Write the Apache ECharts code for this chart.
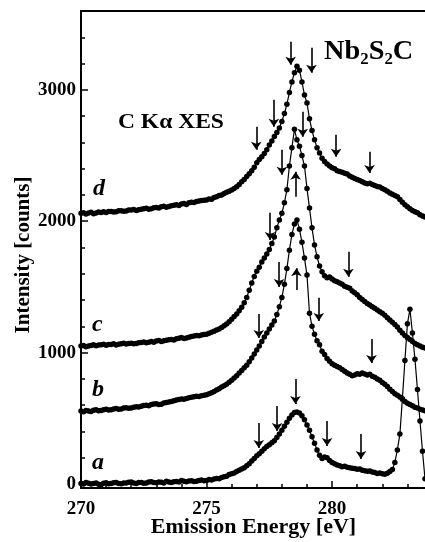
<!DOCTYPE html>
<html><head><meta charset="utf-8">
<script src="https://cdn.jsdelivr.net/npm/echarts@6/dist/echarts.min.js"></script>
<style>html,body{margin:0;padding:0;background:#fff}#c{width:425px;height:542px}</style>
</head><body><div id="c"></div>
<script>
// Emission energy grid (eV)
const energy = [
 270.0,270.1,270.2,270.3,270.4,270.5,270.6,270.7,270.8,270.9,
 271.0,271.1,271.2,271.3,271.4,271.5,271.6,271.7,271.8,271.9,
 272.0,272.1,272.2,272.3,272.4,272.5,272.6,272.7,272.8,272.9,
 273.0,273.1,273.2,273.3,273.4,273.5,273.6,273.7,273.8,273.9,
 274.0,274.1,274.2,274.3,274.4,274.5,274.6,274.7,274.8,274.9,
 275.0,275.1,275.2,275.3,275.4,275.5,275.6,275.7,275.8,275.9,
 276.0,276.1,276.2,276.3,276.4,276.5,276.6,276.7,276.8,276.9,
 277.0,277.1,277.2,277.3,277.4,277.5,277.6,277.7,277.8,277.9,
 278.0,278.1,278.2,278.3,278.4,278.5,278.6,278.7,278.8,278.9,
 279.0,279.1,279.2,279.3,279.4,279.5,279.6,279.7,279.8,279.9,
 280.0,280.1,280.2,280.3,280.4,280.5,280.6,280.7,280.8,280.9,
 281.0,281.1,281.2,281.3,281.4,281.5,281.6,281.7,281.8,281.9,
 282.0,282.1,282.2,282.3,282.4,282.5,282.6,282.7,282.8,282.9,
 283.0,283.1,283.2,283.3,283.4,283.5,283.6,283.7
];
const curveA = [
 5,0,12,6,0,4,8,-2,-5,6,
 10,2,4,10,12,5,2,9,8,14,
 15,8,5,12,12,6,8,15,18,12,
 10,16,14,8,22,15,12,18,20,16,
 28,22,18,24,25,20,22,28,30,26,
 28,35,30,38,42,40,50,55,60,72,
 78,85,95,105,115,125,140,155,175,195,
 215,230,250,268,285,300,315,330,355,380,
 410,440,470,500,525,545,548,540,520,490,
 450,410,360,310,260,220,195,205,200,180,
 165,155,145,140,132,135,128,125,120,118,
 112,115,105,102,98,100,92,88,80,85,
 78,75,82,95,110,165,260,380,650,940,
 1220,1330,1150,950,720,480,250,40
];
const curveB = [
 556,550,560,556,552,562,565,558,560,566,
 570,564,566,572,575,570,572,578,580,576,
 578,584,588,586,592,598,600,596,606,610,
 612,606,608,616,620,624,628,634,640,644,
 648,646,652,656,660,664,668,666,672,676,
 680,688,695,705,715,725,738,748,760,775,
 790,808,825,845,865,885,905,930,960,990,
 1020,1050,1085,1120,1150,1180,1210,1240,1290,1350,
 1420,1520,1640,1780,1900,1980,2010,1940,1840,1720,
 1590,1300,1200,1140,1090,1060,1010,985,955,935,
 915,905,895,885,872,858,845,835,825,830,
 840,835,845,838,830,835,820,812,800,790,
 772,760,742,722,705,688,675,662,645,628,
 615,605,595,585,578,570,564,558
];
const curveC = [
 1050,1054,1045,1050,1055,1060,1052,1058,1060,1064,
 1056,1062,1062,1068,1058,1064,1068,1072,1065,1070,
 1072,1068,1070,1076,1078,1082,1075,1080,1084,1080,
 1088,1092,1085,1090,1095,1098,1100,1096,1105,1110,
 1115,1108,1112,1118,1122,1126,1130,1128,1135,1138,
 1140,1148,1155,1162,1172,1180,1192,1205,1218,1235,
 1255,1275,1295,1318,1345,1380,1420,1475,1530,1580,
 1620,1650,1690,1720,1750,1785,1830,1880,1950,2010,
 2060,2140,2240,2420,2560,2700,2620,2570,2500,2420,
 2250,2100,1950,1820,1730,1660,1615,1585,1570,1575,
 1560,1548,1540,1530,1520,1505,1498,1490,1470,1455,
 1440,1420,1405,1390,1375,1362,1350,1338,1325,1312,
 1300,1285,1265,1248,1232,1215,1195,1170,1150,1130,
 1115,1100,1085,1070,1060,1050,1042,1036
];
const curveD = [
 2060,2064,2055,2062,2068,2058,2062,2070,2066,2072,
 2066,2074,2075,2070,2072,2080,2080,2076,2078,2086,
 2085,2090,2082,2088,2092,2096,2098,2092,2095,2102,
 2105,2100,2110,2114,2106,2112,2118,2122,2125,2120,
 2132,2136,2128,2140,2145,2142,2150,2155,2158,2160,
 2162,2170,2168,2180,2186,2195,2200,2212,2220,2228,
 2238,2250,2262,2280,2300,2318,2340,2362,2385,2410,
 2445,2470,2490,2515,2545,2580,2610,2645,2675,2710,
 2760,2820,2890,2980,3060,3130,3180,3150,3060,2960,
 2900,2780,2690,2620,2560,2520,2480,2455,2435,2420,
 2408,2400,2385,2378,2372,2365,2360,2345,2335,2325,
 2318,2310,2300,2292,2285,2290,2280,2272,2265,2260,
 2250,2240,2228,2215,2205,2195,2186,2165,2145,2125,
 2110,2095,2082,2072,2064,2050,2040,2033
];
// arrows: [energy, start count, tip count]
const arrows = [
 [278.35,3366,3191],[279.18,3320,3130],[277.68,2925,2719],[276.98,2719,2544],[280.16,2658,2490],[281.49,2528,2368],
 [277.53,2064,1858],[278.0,2544,2353],[278.83,2833,2643],[280.65,1767,1577],
 [278.55,2186,2376],[278.58,1477,1643],[277.89,1690,1500],[277.08,1295,1112],[279.47,1417,1241],[281.57,1104,921],
 [277.08,465,274],[277.81,594,404],[278.54,800,609],[279.8,480,289],[281.15,381,190]
];
const xMajorTicks = [270, 275, 280];
const xMinorTicks = [271,272,273,274,276,277,278,279,281,282,283];
const yMajorTicks = [0, 1000, 2000, 3000];
const yMinorTicks = [200,400,600,800,1200,1400,1600,1800,2200,2400,2600,2800,3200,3400];
const curveNames = ['a','b','c','d'];
const curves = [curveA, curveB, curveC, curveD];

const FONT = "'Liberation Serif','Times New Roman',serif";
const chart = echarts.init(document.getElementById('c'), null, {renderer:'canvas'});

const XMIN = 270, XMAX = 283.7, YMIN = -30, YMAX = 3600;
const tickLine = {color:'#000', width:1.5};
const series = curves.map((cv, k) => ({
  type:'line', name: curveNames[k], xAxisIndex:0, yAxisIndex:0,
  data: energy.map((e,i)=>[e, cv[i]]),
  symbol:'circle', symbolSize:5.5, showSymbol:true,
  lineStyle:{color:'#000', width:1.2}, itemStyle:{color:'#000'},
  silent:true, animation:false, z:3
}));
series.push({
  type:'line', xAxisIndex:0, yAxisIndex:0, data:[], silent:true, animation:false,
  markLine:{
    silent:true, animation:false, symbol:['none','arrow'], symbolSize:8,
    label:{show:false}, emphasis:{disabled:true},
    lineStyle:{color:'#000', width:1.6, type:'solid'},
    data: arrows.map(a => [{coord:[a[0], a[1]]}, {coord:[a[0], a[2]]}])
  }
});

const labelPos = [[92,463],[92,390],[92,325],[93,189]];
const graphics = curveNames.map((n,k)=>({
  type:'text', x:labelPos[k][0], y:labelPos[k][1], silent:true,
  style:{text:n, font:"italic bold 24px "+FONT, fill:'#000', textVerticalAlign:'middle'}
}));
graphics.push({type:'text', x:118, y:123, scaleX:1.12, silent:true,
  style:{text:'C K\u03b1 XES', font:"bold 21px "+FONT, fill:'#000', textVerticalAlign:'middle'}});
graphics.push({type:'text', x:324, y:52, scaleX:1.05, silent:true,
  style:{text:'{n|Nb}{s|2}{n|S}{s|2}{n|C}', fill:'#000', textVerticalAlign:'middle',
    rich:{n:{font:"bold 27px "+FONT, fill:'#000'}, s:{font:"bold 16px "+FONT, fill:'#000', padding:[16,0,0,0]}}}});
graphics.push({type:'text', x:24, y:255, rotation:Math.PI/2, silent:true,
  style:{text:'Intensity [counts]', font:"bold 21px "+FONT, fill:'#000', textAlign:'center', textVerticalAlign:'middle'}});
graphics.push({type:'text', x:253.5, y:527.5, silent:true,
  style:{text:'Emission Energy [eV]', font:"bold 22px "+FONT, fill:'#000', textAlign:'center', textVerticalAlign:'middle'}});

chart.setOption({
  animation:false,
  backgroundColor:'#fff',
  grid:{left:81, right:0, top:11, bottom:54, containLabel:false},
  xAxis:[
    {type:'value', min:XMIN, max:XMAX, position:'bottom',
     axisLine:{show:true, onZero:false, lineStyle:{color:'#000', width:2}},
     axisTick:{show:true, inside:true, length:7, customValues:xMajorTicks, lineStyle:tickLine},
     axisLabel:{show:true, customValues:xMajorTicks, margin:12, color:'#000', fontSize:19, fontWeight:'bold', fontFamily:FONT,
       formatter:v=>String(v)},
     splitLine:{show:false}},
    {type:'value', min:XMIN, max:XMAX, position:'bottom',
     axisLine:{show:false, onZero:false},
     axisTick:{show:true, inside:true, length:4, customValues:xMinorTicks, lineStyle:tickLine},
     axisLabel:{show:false}, splitLine:{show:false}},
    {type:'value', min:XMIN, max:XMAX, position:'top',
     axisLine:{show:true, onZero:false, lineStyle:{color:'#000', width:2}},
     axisTick:{show:false}, axisLabel:{show:false}, splitLine:{show:false}}
  ],
  yAxis:[
    {type:'value', min:YMIN, max:YMAX, position:'left',
     axisLine:{show:true, onZero:false, lineStyle:{color:'#000', width:2}},
     axisTick:{show:true, inside:true, length:7, customValues:yMajorTicks, lineStyle:tickLine},
     axisLabel:{show:true, customValues:yMajorTicks, margin:5, color:'#000', fontSize:19, fontWeight:'bold', fontFamily:FONT,
       formatter:v=>String(v)},
     splitLine:{show:false}},
    {type:'value', min:YMIN, max:YMAX, position:'left',
     axisLine:{show:false, onZero:false},
     axisTick:{show:true, inside:true, length:4, customValues:yMinorTicks, lineStyle:tickLine},
     axisLabel:{show:false}, splitLine:{show:false}}
  ],
  series: series,
  graphic: graphics
});
</script>
</body></html>
